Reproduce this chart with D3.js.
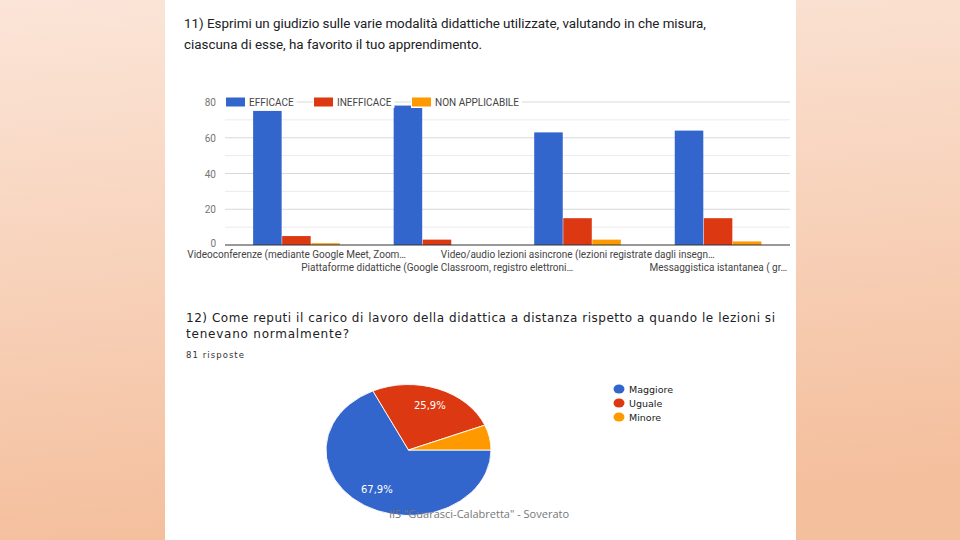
<!DOCTYPE html>
<meta charset="utf-8">
<script src="https://d3js.org/d3.v7.min.js"></script>
<style>
  body { margin: 0; }
  svg { display: block; }
</style>
<div id="slide"></div>
<script>

// --- data ---
var modalita = [
  "Videoconferenze (mediante Google Meet, Zoom…",
  "Piattaforme didattiche (Google Classroom, registro elettroni…",
  "Video/audio lezioni asincrone (lezioni registrate dagli insegn…",
  "Messaggistica istantanea ( gr…"
]
var serie = ["EFFICACE", "INEFFICACE", "NON APPLICABILE"]
var efficace = [75, 78, 63, 64]
var inefficace = [5, 3, 15, 15]
var nonApplicabile = [1, 0, 3, 2]
var yTicks = [0, 20, 40, 60, 80]

var risposte = ["Maggiore", "Uguale", "Minore"]
var percentuali = [67.9, 25.9, 6.2]

var colori = ["#3366cc", "#dc3912", "#ff9900"]

var W = 960, H = 540

var svg = d3.select("#slide").append("svg")
    .attr("width", W)
    .attr("height", H)

// background gradient
var defs = svg.append("defs")
var grad = defs.append("linearGradient")
    .attr("id", "bg").attr("x1", 0).attr("y1", 0).attr("x2", 0.15).attr("y2", 1)
grad.append("stop").attr("offset", "0%").attr("stop-color", "#fbe5d8")
grad.append("stop").attr("offset", "100%").attr("stop-color", "#f4bf9d")
svg.append("rect").attr("width", W).attr("height", H).attr("fill", "url(#bg)")

// white panel
svg.append("rect").attr("x", 165).attr("y", 0).attr("width", 631).attr("height", H).attr("fill", "#fff")

// ---- question 11 ----
svg.append("text").attr("x", 184).attr("y", 28)
    .attr("font-family", "Roboto, sans-serif").attr("font-size", 13.4).attr("fill", "#202124")
    .attr("textLength", 522)
    .text("11) Esprimi un giudizio sulle varie modalità didattiche utilizzate, valutando in che misura,")
svg.append("text").attr("x", 184).attr("y", 49)
    .attr("font-family", "Roboto, sans-serif").attr("font-size", 13.4).attr("fill", "#202124")
    .text("ciascuna di esse, ha favorito il tuo apprendimento.")

var x0 = d3.scaleBand().domain(d3.range(modalita.length)).range([225, 790]).paddingInner(0.38).paddingOuter(0.2)
var x1 = d3.scaleBand().domain(serie).range([0, x0.bandwidth()])
var y = d3.scaleLinear().domain([0, 80]).range([245, 102])

// gridlines (major and minor)
svg.append("g").selectAll("line")
    .data(d3.range(10, 81, 10))
    .join("line")
    .attr("x1", 225).attr("x2", 790)
    .attr("y1", function(d) { return y(d) }).attr("y2", function(d) { return y(d) })
    .attr("stroke", function(d) { return d % 20 == 0 ? "#d9d9d9" : "#ebebeb" })
    .attr("stroke-width", 1)

// y labels
svg.append("g").selectAll("text")
    .data(yTicks)
    .join("text")
    .attr("x", 216).attr("y", function(d) { return y(d) + (d == 0 ? 2 : 4) })
    .attr("text-anchor", "end")
    .attr("font-family", "Roboto, sans-serif").attr("font-size", 10).attr("fill", "#757575")
    .text(function(d) { return d })

// bars
var valori = [efficace, inefficace, nonApplicabile]
var barData = []
modalita.forEach(function(m, i) {
  serie.forEach(function(s, j) {
    barData.push({ g: i, s: s, c: colori[j], v: valori[j][i] })
  })
})
svg.append("g").selectAll("rect")
    .data(barData)
    .join("rect")
    .attr("x", function(d) { return x0(d.g) + x1(d.s) })
    .attr("y", function(d) { return y(d.v) })
    .attr("width", x1.bandwidth() - 0.5)
    .attr("height", function(d) { return y(0) - y(d.v) })
    .attr("fill", function(d) { return d.c })

// baseline
svg.append("line").attr("x1", 225).attr("x2", 790).attr("y1", y(0)).attr("y2", y(0))
    .attr("stroke", "#333").attr("stroke-width", 1)

// x labels, staggered
svg.append("g").selectAll("text")
    .data(modalita)
    .join("text")
    .attr("x", function(d, i) { return x0(i) + x0.bandwidth() / 2 })
    .attr("y", function(d, i) { return i % 2 == 0 ? 258 : 271 })
    .attr("text-anchor", "middle")
    .attr("font-family", "Roboto, sans-serif").attr("font-size", 10).attr("fill", "#444")
    .text(function(d) { return d })

// legend
var legX = [226, 314, 412]
var leg = svg.append("g").selectAll("g")
    .data(serie)
    .join("g")
    .attr("transform", function(d, i) { return "translate(" + legX[i] + "," + y(80) + ")" })
leg.each(function(d, i) {
  var g = d3.select(this)
  var t = g.append("text").attr("x", 23).attr("y", 3.5)
      .attr("font-family", "Roboto, sans-serif").attr("font-size", 10).attr("fill", "#444")
      .text(d)
  var w = t.node().getComputedTextLength()
  g.insert("rect", "text").attr("x", -1).attr("y", -6).attr("width", w + 27).attr("height", 12).attr("fill", "#fff")
  g.append("rect").attr("x", 0).attr("y", -4.5).attr("width", 19).attr("height", 9).attr("fill", colori[i])
})

// ---- question 12 ----
svg.append("text").attr("x", 186).attr("y", 322)
    .attr("font-family", "'DejaVu Sans', sans-serif").attr("font-size", 12).attr("fill", "#202124")
    .attr("textLength", 589)
    .text("12) Come reputi il carico di lavoro della didattica a distanza rispetto a quando le lezioni si")
svg.append("text").attr("x", 186).attr("y", 338)
    .attr("font-family", "'DejaVu Sans', sans-serif").attr("font-size", 12).attr("fill", "#202124")
    .attr("textLength", 163)
    .text("tenevano normalmente?")
svg.append("text").attr("x", 186).attr("y", 358)
    .attr("font-family", "'DejaVu Sans', sans-serif").attr("font-size", 8.5).attr("fill", "#333")
    .attr("textLength", 58)
    .text("81 risposte")

// pie (slightly squashed as in the screenshot)
var cx = 408.5, cy = 450, rx = 82.5, ry = 65.5
var pie = d3.pie().sort(null)
    .startAngle(Math.PI / 2).endAngle(Math.PI / 2 + 2 * Math.PI)
var arc = d3.arc().innerRadius(0).outerRadius(rx)
var pieG = svg.append("g")
    .attr("transform", "translate(" + cx + "," + cy + ") scale(1," + (ry / rx) + ")")
var slices = pie(percentuali)
pieG.selectAll("path")
    .data(slices)
    .join("path")
    .attr("d", arc)
    .attr("fill", function(d, i) { return colori[i] })
    .attr("stroke", "#fff")
    .attr("stroke-width", 1)

var labelArc = d3.arc().innerRadius(rx * 0.72).outerRadius(rx * 0.72)
svg.append("g").selectAll("text")
    .data(slices.filter(function(d) { return d.data > 10 }))
    .join("text")
    .attr("x", function(d) { return cx + labelArc.centroid(d)[0] })
    .attr("y", function(d) { return cy + labelArc.centroid(d)[1] * ry / rx + 3.5 })
    .attr("text-anchor", "middle")
    .attr("font-family", "'DejaVu Sans', sans-serif").attr("font-size", 10).attr("fill", "#fff")
    .text(function(d) { return d3.format(".1f")(d.data).replace(".", ",") + "%" })

// pie legend
var pl = svg.append("g").selectAll("g")
    .data(risposte)
    .join("g")
    .attr("transform", function(d, i) { return "translate(619," + (389 + i * 14) + ")" })
pl.append("ellipse").attr("rx", 5.5).attr("ry", 4.5).attr("fill", function(d, i) { return colori[i] })
pl.append("text").attr("x", 10).attr("y", 3.5)
    .attr("font-family", "'DejaVu Sans', sans-serif").attr("font-size", 9.5).attr("fill", "#222")
    .text(function(d) { return d })

// footer
svg.append("text").attr("x", 479).attr("y", 518)
    .attr("text-anchor", "middle")
    .attr("font-family", "'Open Sans', sans-serif").attr("font-size", 11).attr("fill", "#777")
    .text("IIS \"Guarasci-Calabretta\" - Soverato")

</script>
